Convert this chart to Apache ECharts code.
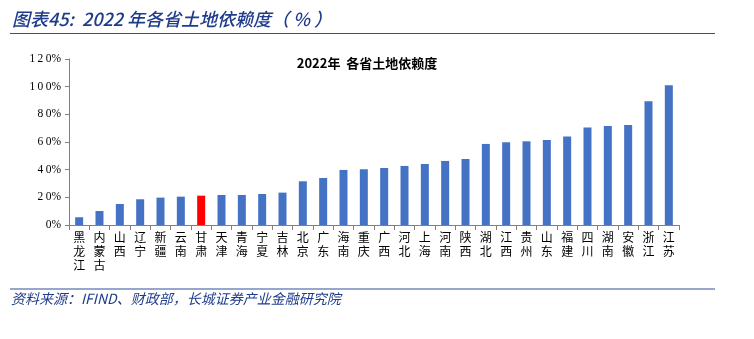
<!DOCTYPE html>
<html>
<head>
<meta charset="utf-8">
<script src="https://cdn.jsdelivr.net/npm/echarts@6/dist/echarts.min.js"></script>
<style>
html,body{margin:0;padding:0;background:#fff;}
#chart{width:754px;height:339px;}
</style>
</head>
<body>
<div id="chart"></div>
<script>
// 2022年各省土地依赖度（%）
const provinces = ['黑龙江','内蒙古','山西','辽宁','新疆','云南','甘肃','天津','青海','宁夏','吉林','北京','广东','海南','重庆','广西','河北','上海','河南','陕西','湖北','江西','贵州','山东','福建','四川','湖南','安徽','浙江','江苏'];
const dependence = [5.6,10.1,15.2,18.6,19.8,20.5,21.2,21.7,21.7,22.4,23.4,31.6,34.0,39.8,40.3,41.2,42.7,44.1,46.3,47.7,58.6,59.8,60.5,61.5,63.9,70.4,71.6,72.3,89.4,101.0];
const highlight = '甘肃';
const yTicks = [0,20,40,60,80,100,120];

const chart = echarts.init(document.getElementById('chart'));
const blue = '#1F3C8C';

chart.setOption({
  animation: false,
  backgroundColor: '#fff',
  title: {
    text: '2022年  各省土地依赖度',
    left: 362, top: 52, textAlign: 'center',
    textStyle: {fontSize: 13, fontWeight: 'bold', color: '#000', fontFamily: 'Noto Sans CJK SC'}
  },
  graphic: [
    {type: 'text', left: 12, top: 10,
     style: {text: '图表45:  2022 年各省土地依赖度（ % ）', fontSize: 18, fontStyle: 'italic', fontWeight: 500,
             fill: blue, fontFamily: 'Noto Sans CJK SC'}},
    {type: 'line', shape: {x1: 10, y1: 33.5, x2: 715, y2: 33.5}, style: {stroke: '#2E4F9A', lineWidth: 1.2}},
    {type: 'line', shape: {x1: 10, y1: 289, x2: 715, y2: 289}, style: {stroke: '#2E4F9A', lineWidth: 1.2}},
    {type: 'text', left: 11, top: 292,
     style: {text: '资料来源：IFIND、财政部，长城证券产业金融研究院', fontSize: 14, fontStyle: 'italic',
             fill: blue, fontFamily: 'Noto Sans CJK SC'}}
  ],
  grid: {left: 69, right: 75, top: 59, bottom: 114},
  xAxis: {
    type: 'category',
    data: provinces,
    axisLine: {lineStyle: {color: '#808080'}},
    axisTick: {show: true, length: 5, lineStyle: {color: '#808080'}},
    axisLabel: {
      interval: 0, margin: 5, color: '#000', fontSize: 12, lineHeight: 14,
      fontFamily: 'Noto Sans CJK SC',
      formatter: v => v.split('').join('\n')
    }
  },
  yAxis: {
    type: 'value',
    min: 0, max: 120, interval: 20,
    splitLine: {show: false},
    axisLine: {show: true, lineStyle: {color: '#808080'}},
    axisTick: {show: true, length: 4, lineStyle: {color: '#808080'}},
    axisLabel: {
      margin: 8, color: '#000', fontSize: 11.5,
      fontFamily: 'Liberation Serif',
      formatter: v => yTicks.includes(v) ? String(v).split('').join('\u2009') + '%' : ''
    }
  },
  series: [{
    type: 'bar',
    barWidth: 8,
    data: dependence.map((v, i) => ({
      value: v,
      itemStyle: {color: provinces[i] === highlight ? '#FF0000' : '#4472C4'}
    }))
  }]
});
</script>
</body>
</html>
